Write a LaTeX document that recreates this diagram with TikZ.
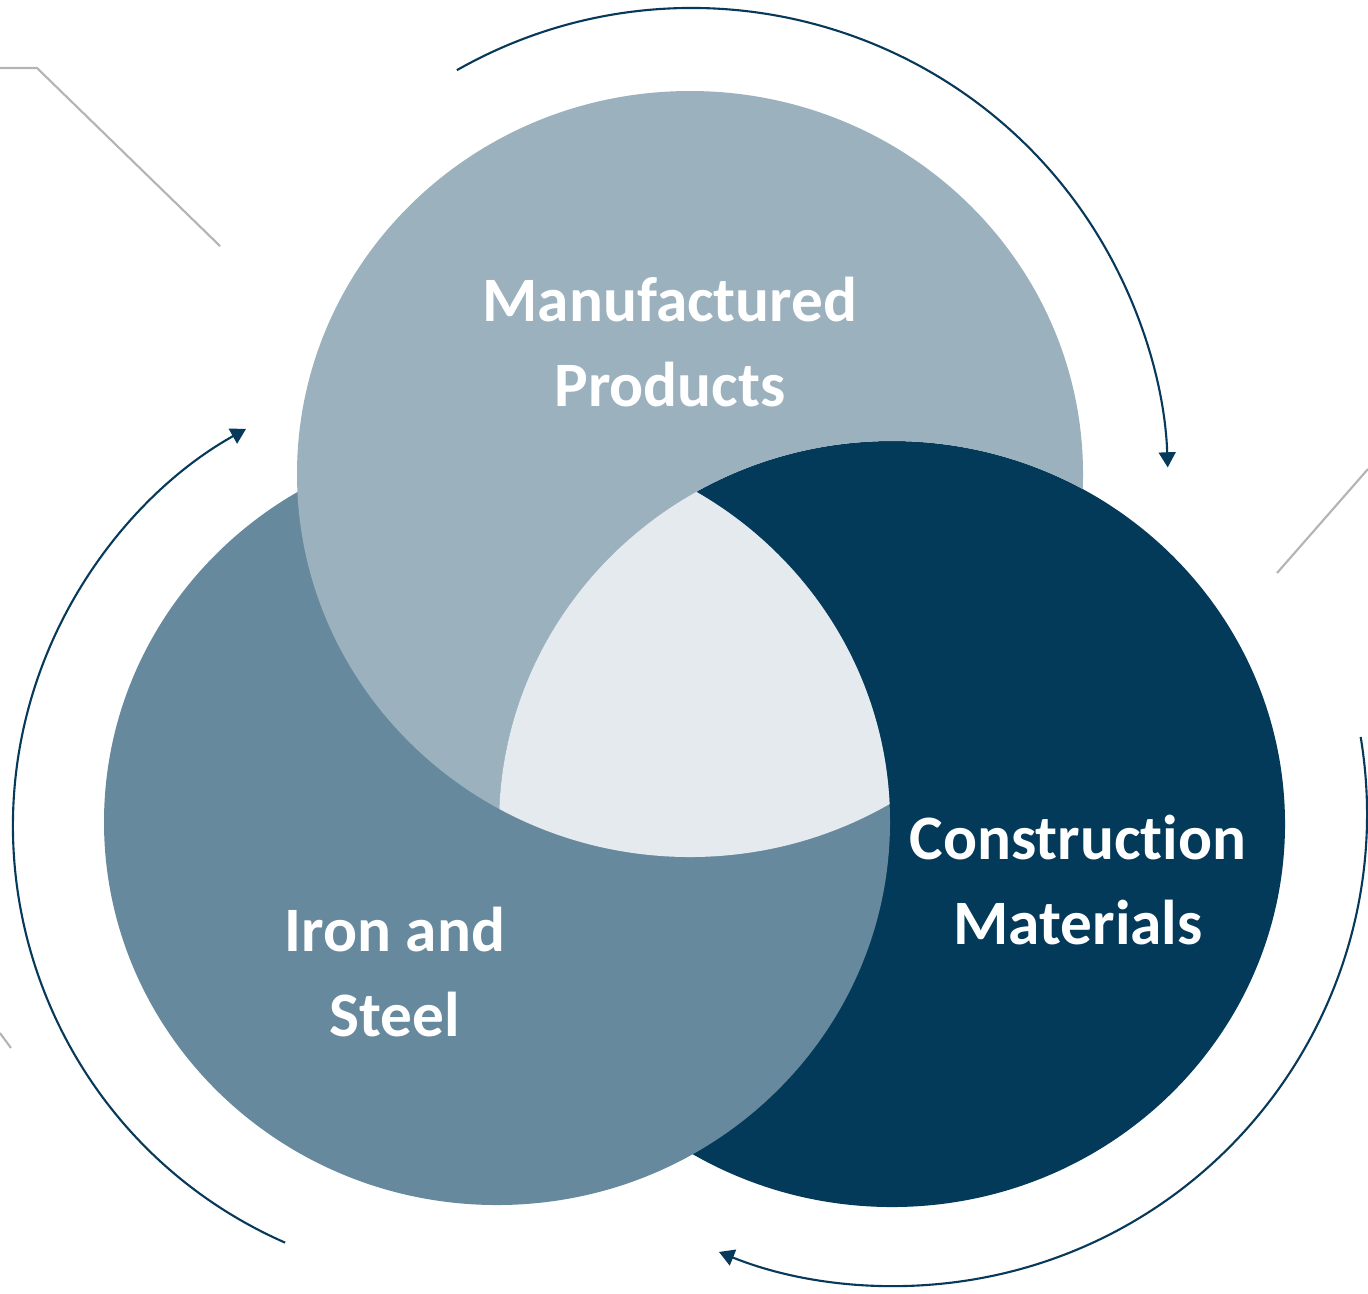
\documentclass[tikz,border=0pt]{standalone}
\usepackage{fontspec}
\setmainfont[Ligatures=NoCommon]{Carlito}
\usetikzlibrary{arrows.meta}
\definecolor{mfgfill}{HTML}{9BB1BE}
\definecolor{ironfill}{HTML}{67899D}
\definecolor{consfill}{HTML}{033A5A}
\definecolor{corefill}{HTML}{E4EAEE}
\definecolor{cyclenavy}{HTML}{07395A}
\definecolor{guidegray}{HTML}{B4B4B4}
\begin{document}
\begin{tikzpicture}[x=0.01cm, y=-0.01cm,
  labeltext/.style={text=white, font=\bfseries\fontsize{18}{24}\selectfont, align=center, inner sep=0pt},
  cyclearrow/.style={draw=cyclenavy, line width=0.6pt, -{Triangle[length=4.3pt,width=4.8pt]}},
  guideline/.style={draw=guidegray, line width=0.6pt},
  blob/.style={x radius=393, y radius=383}]
% canvas
\fill[white] (0,0) rectangle (1368,1293);
\useasboundingbox (0,0) rectangle (1368,1293);

% centres of the three sets
\coordinate (mfgc)  at (690,474);
\coordinate (ironc) at (497,822);
\coordinate (consc) at (892,824);

% thin grey guide strokes
\draw[guideline] (0,68) -- (37,68) -- (220,246);
\draw[guideline] (1368,469) -- (1277,573);
\draw[guideline] (0,1033) -- (11,1048);

% the three discs: each one lies over the next in turn
\fill[consfill] (consc) ellipse[blob];
\fill[ironfill] (ironc) ellipse[blob];
\begin{scope}[even odd rule]
  % the top disc stays under the construction disc
  \clip (-10,-10) rectangle (1378,1303) (consc) ellipse[blob];
  \fill[mfgfill] (mfgc) ellipse[blob];
\end{scope}
\begin{scope}
  % common core of all three sets
  \clip (mfgc) ellipse[blob];
  \clip (consc) ellipse[blob];
  \clip (ironc) ellipse[blob];
  \fill[corefill] (-10,-10) rectangle (1378,1303);
\end{scope}

% cycle arrows around the diagram
\coordinate (topArcC)   at (692,484);
\coordinate (leftArcC)  at (468,826);
\coordinate (botArcC)   at (895,814);
\path (topArcC)  ++(-119.6:476) coordinate (topArcS);
\path (leftArcC) ++(113.7:455)  coordinate (leftArcS);
\path (botArcC)  ++(-9.4:472)   coordinate (botArcS);
\draw[cyclearrow] (topArcS)  arc[start angle=-119.6, end angle=-2,    radius=476];
\draw[cyclearrow] (leftArcS) arc[start angle=113.7,  end angle=240.8, radius=455];
\draw[cyclearrow] (botArcS)  arc[start angle=-9.4,   end angle=111.9, radius=472];

% labels
\node[labeltext] (mfg)  at (670,342) {Manufactured\\Products};
\node[labeltext] (cons) at (1078,880) {Construction\\Materials};
\node[labeltext] (iron) at (395,972) {Iron and\\Steel};
\end{tikzpicture}
\end{document}
